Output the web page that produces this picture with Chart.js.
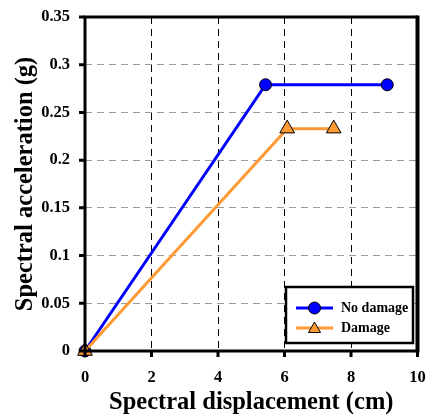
<!DOCTYPE html>
<html>
<head>
<meta charset="utf-8">
<script src="https://cdn.jsdelivr.net/npm/chart.js@4/dist/chart.umd.min.js"></script>
<style>
  html, body { margin: 0; padding: 0; background: #fff; }
  #wrap { width: 427px; height: 417px; }
</style>
</head>
<body>
<div id="wrap"><canvas id="chart" width="427" height="417"></canvas></div>
<script>
// data
const noDamageX = [0, 5.43, 9.09];
const noDamageY = [0, 0.279, 0.279];
const damageX = [0, 6.08, 7.48];
const damageY = [0, 0.233, 0.233];
const xTicks = [0, 2, 4, 6, 8, 10];
const yTicks = [0, 0.05, 0.1, 0.15, 0.2, 0.25, 0.3, 0.35];

const serif = "'Liberation Serif', 'Times New Roman', serif";

function toPoints(xs, ys) {
  return xs.map((x, i) => ({ x: x, y: ys[i] }));
}

// frame, outer tick marks and boxed legend
const framePlugin = {
  id: "frame",
  afterDraw(chart) {
    const ctx = chart.ctx;
    const a = chart.chartArea;
    const xs = chart.scales.x, ys = chart.scales.y;
    ctx.save();
    ctx.strokeStyle = "#000";
    ctx.lineWidth = 3;
    ctx.beginPath();
    ctx.moveTo(a.left, a.top);
    ctx.lineTo(a.right, a.top);
    ctx.moveTo(a.left, a.top - 1.5);
    ctx.lineTo(a.left, a.bottom + 1.5);
    ctx.moveTo(a.left - 1.5, a.bottom);
    ctx.lineTo(a.right + 1.5, a.bottom);
    ctx.stroke();
    ctx.lineWidth = 4;
    ctx.beginPath();
    ctx.moveTo(a.right, a.top - 1.5);
    ctx.lineTo(a.right, a.bottom + 1.5);
    ctx.stroke();

    ctx.lineWidth = 3;
    ctx.beginPath();
    xTicks.forEach(v => {
      const px = xs.getPixelForValue(v);
      ctx.moveTo(px, a.bottom);
      ctx.lineTo(px, a.bottom + 6);
    });
    yTicks.forEach(v => {
      const py = ys.getPixelForValue(v);
      ctx.moveTo(a.left, py);
      ctx.lineTo(a.left - 6, py);
    });
    ctx.stroke();

    // legend
    const bx = 286, by = 287, bw = 127, bh = 56;
    ctx.fillStyle = "#fff";
    ctx.fillRect(bx, by, bw, bh);
    ctx.lineWidth = 2.5;
    ctx.strokeStyle = "#000";
    ctx.strokeRect(bx, by, bw, bh);
    const rows = [
      { ds: chart.data.datasets[0], y: 308 },
      { ds: chart.data.datasets[1], y: 328 }
    ];
    rows.forEach(r => {
      const tri = r.ds.pointStyle === "triangle";
      ctx.strokeStyle = r.ds.borderColor;
      ctx.lineWidth = 3;
      ctx.beginPath();
      ctx.moveTo(296, r.y);
      ctx.lineTo(333, r.y);
      ctx.stroke();
      ctx.fillStyle = r.ds.pointBackgroundColor;
      ctx.strokeStyle = "#000";
      ctx.beginPath();
      if (tri) {
        const rad = 7, cy = r.y + 1;
        ctx.moveTo(314.5, cy - rad);
        ctx.lineTo(314.5 + rad * 0.866, cy + rad / 2);
        ctx.lineTo(314.5 - rad * 0.866, cy + rad / 2);
        ctx.closePath();
      } else {
        ctx.arc(314.5, r.y, 6, 0, Math.PI * 2);
      }
      ctx.fill();
      ctx.lineWidth = 1;
      ctx.stroke();
      ctx.fillStyle = "#000";
      ctx.font = "bold 14px " + serif;
      ctx.textBaseline = "middle";
      ctx.textAlign = "left";
      ctx.fillText(r.ds.label, 341, r.y);
    });
    ctx.restore();
  }
};

new Chart(document.getElementById("chart"), {
  type: "line",
  data: {
    datasets: [
      {
        label: "No damage",
        data: toPoints(noDamageX, noDamageY),
        borderColor: "#0000ff",
        borderWidth: 3,
        pointStyle: "circle",
        pointRadius: 6,
        pointBackgroundColor: "#0000ff",
        pointBorderColor: "#000",
        pointBorderWidth: 1,
        clip: false,
        order: 2
      },
      {
        label: "Damage",
        data: toPoints(damageX, damageY),
        borderColor: "#ff9933",
        borderWidth: 3,
        pointStyle: "triangle",
        pointRadius: 8.5,
        pointBackgroundColor: "#ff9933",
        pointBorderColor: "#000",
        pointBorderWidth: 1,
        clip: false,
        order: 1
      }
    ]
  },
  options: {
    responsive: false,
    animation: false,
    layout: { padding: { top: 17, right: 7, left: 0, bottom: 0 } },
    plugins: { legend: { display: false }, tooltip: { enabled: false } },
    scales: {
      x: {
        type: "linear",
        min: 0,
        max: 10,
        afterBuildTicks: s => { s.ticks = xTicks.map(v => ({ value: v })); },
        afterFit: s => { s.height = 66; s.paddingLeft = 0; s.paddingRight = 0; },
        grid: {
          drawTicks: false,
          color: c => (c.tick && (c.tick.value === 0 || c.tick.value === 10)) ? "rgba(0,0,0,0)" : "#000",
          lineWidth: 1
        },
        border: { display: false, dash: [7, 5] },
        ticks: {
          color: "#000",
          padding: 17,
          maxRotation: 0,
          font: { family: serif, size: 16.5, weight: "bold" }
        },
        title: {
          display: true,
          text: "Spectral displacement (cm)",
          color: "#000",
          padding: { top: 0, bottom: 0 },
          font: { family: serif, size: 24.5, weight: "bold" }
        }
      },
      y: {
        type: "linear",
        min: 0,
        max: 0.35,
        afterBuildTicks: s => { s.ticks = yTicks.map(v => ({ value: v })); },
        afterFit: s => { s.width = 85; s.paddingTop = 0; s.paddingBottom = 0; },
        grid: {
          drawTicks: false,
          color: c => (c.tick && (c.tick.value === 0 || c.tick.value === 0.35)) ? "rgba(0,0,0,0)" : "#9a9a9a",
          lineWidth: 1
        },
        border: { display: false, dash: [7, 5] },
        ticks: {
          color: "#000",
          padding: 15,
          callback: v => String(Math.round(v * 100) / 100),
          font: { family: serif, size: 16.5, weight: "bold" }
        },
        title: {
          display: true,
          text: "Spectral acceleration (g)",
          color: "#000",
          padding: { top: 11, bottom: 0 },
          font: { family: serif, size: 24.5, weight: "bold" }
        }
      }
    }
  },
  plugins: [framePlugin]
});
</script>
</body>
</html>
